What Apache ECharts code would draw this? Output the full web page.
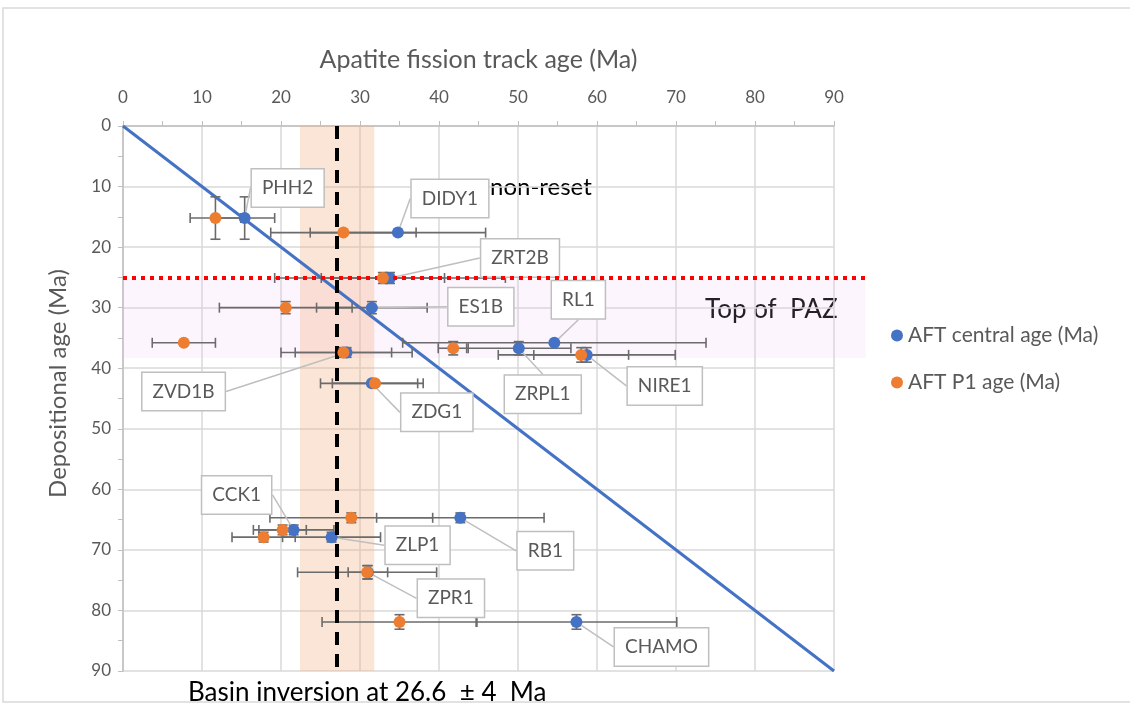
<!DOCTYPE html>
<html>
<head>
    <meta charset="utf-8">
    <title>AFT age vs depositional age</title>
    <script src="https://cdn.jsdelivr.net/npm/echarts@6/dist/echarts.min.js"></script>
</head>
<body style="margin:0">
    <div id="main" style="width:1130px;height:704px;"></div>
    <script type="text/javascript">
        // samples, top to bottom
        var samples = ['PHH2', 'DIDY1', 'ZRT2B', 'ES1B', 'RL1', 'ZRPL1', 'NIRE1',
                       'ZVD1B', 'ZDG1', 'RB1', 'CCK1', 'ZLP1', 'ZPR1', 'CHAMO'];
        var depositionalAge = [15.2, 17.6, 25.1, 30.0, 35.8, 36.7, 37.8, 37.4, 42.5, 64.7, 66.7, 67.9, 73.7, 81.9];
        var depositionalErr = [3.5, 0, 0.9, 1.0, 0, 1.1, 1.2, 0.8, 0, 0.8, 0.8, 0.8, 1.1, 1.2];

        var centralAge = [15.4, 34.8, 33.8, 31.5, 54.6, 50.1, 58.7, 28.3, 31.5, 42.7, 21.6, 26.4, 31.0, 57.4];
        var centralErr = [3.8, 11.1, 14.6, 7.0, 19.2, 6.6, 11.2, 8.3, 6.5, 10.6, 5.1, 6.2, 2.5, 12.7];

        var p1Age = [11.7, 27.9, 32.9, 20.6, 7.7, 41.8, 58.0, 27.9, 31.9, 28.9, 20.2, 17.8, 30.9, 35.0];
        var p1Err = [3.2, 9.2, 7.8, 8.4, 4.0, 1.9, 6.0, 6.1, 5.4, 10.3, 3.0, 4.0, 8.8, 9.8];

        var oneToOne = [0, 90];          // 1:1 line ends
        var basinInversion = 27.1;       // dashed line
        var inversionBand = [22.4, 31.8];
        var pazTop = 25;                 // red dotted line
        var pazBand = [25.3, 38.3];

        var blue = '#4472C4', orange = '#ED7D31', gray = '#595959';
        var font = 'Lato';

        // where each callout box sits relative to its point (px)
        var calloutOffset = [[43, -30], [52, -34], [130, -20], [109, -1], [24, -43], [24, 46], [78, 31],
                             [-163, 39], [65, 29], [85, 33], [-57, -35], [86, 8], [83, 26], [85, 25]];

        var myChart = echarts.init(document.getElementById('main'));

        function errorBar(params, api) {
            var x = api.value(0), y = api.value(1), ex = api.value(2), ey = api.value(3);
            var style = { stroke: '#6b6b6b', lineWidth: 1.6 };
            var cap = 5, kids = [];
            if (ex > 0) {
                var l = api.coord([x - ex, y]), r = api.coord([x + ex, y]);
                kids.push({ type: 'line', shape: { x1: l[0], y1: l[1], x2: r[0], y2: r[1] }, style: style });
                kids.push({ type: 'line', shape: { x1: l[0], y1: l[1] - cap, x2: l[0], y2: l[1] + cap }, style: style });
                kids.push({ type: 'line', shape: { x1: r[0], y1: r[1] - cap, x2: r[0], y2: r[1] + cap }, style: style });
            }
            if (ey > 0) {
                var t = api.coord([x, y - ey]), b = api.coord([x, y + ey]);
                kids.push({ type: 'line', shape: { x1: t[0], y1: t[1], x2: b[0], y2: b[1] }, style: style });
                kids.push({ type: 'line', shape: { x1: t[0] - cap, y1: t[1], x2: t[0] + cap, y2: t[1] }, style: style });
                kids.push({ type: 'line', shape: { x1: b[0] - cap, y1: b[1], x2: b[0] + cap, y2: b[1] }, style: style });
            }
            return { type: 'group', children: kids };
        }

        var centralPts = [], p1Pts = [], centralBars = [], p1Bars = [];
        for (var i = 0; i < samples.length; i++) {
            centralPts.push([centralAge[i], depositionalAge[i]]);
            p1Pts.push([p1Age[i], depositionalAge[i]]);
            centralBars.push([centralAge[i], depositionalAge[i], centralErr[i], depositionalErr[i]]);
            p1Bars.push([p1Age[i], depositionalAge[i], p1Err[i], depositionalErr[i]]);
        }

        var plotW = 711, plotH = 545;

        option = {
            animation: false,
            textStyle: { fontFamily: font },
            grid: [
                { left: 123, top: 126, width: plotW, height: plotH },
                // wider frame for the PAZ band, which runs past the last gridline
                { left: 123, top: 126, width: plotW * 94 / 90, height: plotH }
            ],
            xAxis: [{
                type: 'value', position: 'top', min: 0, max: 90, interval: 10,
                name: 'Apatite fission track age (Ma)', nameLocation: 'middle', nameGap: 54,
                nameTextStyle: { fontSize: 25, color: gray, fontFamily: font },
                axisLine: { show: true, lineStyle: { color: '#bfbfbf', width: 1.5 } },
                axisTick: { show: true, length: 5, lineStyle: { color: '#bfbfbf' } },
                minorTick: { show: true, splitNumber: 2, length: 5, lineStyle: { color: '#bfbfbf' } },
                axisLabel: { fontSize: 17, color: gray, margin: 20, fontFamily: font },
                splitLine: { show: true, lineStyle: { color: '#d9d9d9', width: 1.5 } }
            }, {
                type: 'value', gridIndex: 1, min: 0, max: 94, show: false
            }],
            yAxis: [{
                type: 'value', inverse: true, min: 0, max: 90, interval: 10,
                name: 'Depositional age (Ma)', nameLocation: 'middle', nameGap: 53,
                nameTextStyle: { fontSize: 24, color: gray, fontFamily: font, padding: [0, 0, 0, 30] },
                axisLine: { show: true, lineStyle: { color: '#bfbfbf', width: 1.5 } },
                axisTick: { show: true, length: 5, lineStyle: { color: '#bfbfbf' } },
                minorTick: { show: true, splitNumber: 2, length: 5, lineStyle: { color: '#bfbfbf' } },
                axisLabel: { fontSize: 17, color: gray, margin: 12, fontFamily: font },
                splitLine: { show: true, lineStyle: { color: '#d9d9d9', width: 1.5 } }
            }, {
                type: 'value', gridIndex: 1, inverse: true, min: 0, max: 90, show: false
            }],
            legend: {
                orient: 'vertical', left: 886, top: 320, itemGap: 26,
                icon: 'circle', itemWidth: 12, itemHeight: 12,
                textStyle: { fontSize: 21, color: gray, fontFamily: font },
                data: ['AFT central age (Ma)', 'AFT P1 age (Ma)']
            },
            series: [{
                // PAZ band and its top
                type: 'scatter', xAxisIndex: 1, yAxisIndex: 1, data: [], z: 1, silent: true,
                markArea: {
                    silent: true,
                    itemStyle: { color: 'rgba(240,190,240,0.16)' },
                    data: [[{ xAxis: 0, yAxis: pazBand[0] }, { xAxis: 94, yAxis: pazBand[1] }]]
                }
            }, {
                type: 'line', name: '1:1', data: [[oneToOne[0], oneToOne[0]], [oneToOne[1], oneToOne[1]]],
                showSymbol: false, z: 2, silent: true,
                lineStyle: { color: blue, width: 3 }
            }, {
                type: 'custom', name: 'central err', renderItem: errorBar, data: centralBars,
                encode: { x: 0, y: 1 }, z: 3, silent: true
            }, {
                type: 'custom', name: 'p1 err', renderItem: errorBar, data: p1Bars,
                encode: { x: 0, y: 1 }, z: 3, silent: true
            }, {
                type: 'scatter', name: 'AFT central age (Ma)', data: centralPts, z: 4,
                symbolSize: 12, itemStyle: { color: blue, opacity: 1 },
                label: {
                    show: true, position: 'inside',
                    formatter: function (p) { return samples[p.dataIndex]; },
                    color: gray, fontSize: 19, fontFamily: font,
                    backgroundColor: '#fff', borderColor: '#bfbfbf', borderWidth: 1.5,
                    padding: [9, 10]
                },
                labelLine: { show: true, lineStyle: { color: '#bfbfbf', width: 1.5 } },
                labelLayout: function (p) {
                    var o = calloutOffset[p.dataIndex];
                    return { dx: o[0], dy: o[1] };
                },
                emphasis: { disabled: true }
            }, {
                type: 'scatter', name: 'AFT P1 age (Ma)', data: p1Pts, z: 5,
                symbolSize: 12, itemStyle: { color: orange, opacity: 1 },
                emphasis: { disabled: true }
            }, {
                // basin inversion band and line, drawn over the points
                type: 'scatter', data: [], z: 6, silent: true,
                markArea: {
                    silent: true,
                    itemStyle: { color: 'rgba(244,177,131,0.33)' },
                    data: [[{ xAxis: inversionBand[0], yAxis: 0 }, { xAxis: inversionBand[1], yAxis: 90 }]]
                },
                markLine: {
                    silent: true, symbol: 'none', label: { show: false },
                    lineStyle: { color: '#000', width: 4, type: [13, 9] },
                    data: [{ xAxis: basinInversion }]
                }
            }, {
                type: 'scatter', xAxisIndex: 1, yAxisIndex: 1, data: [], z: 7, silent: true,
                markLine: {
                    silent: true, symbol: 'none', label: { show: false },
                    lineStyle: { color: '#ff0000', width: 4, type: [4, 5] },
                    data: [{ yAxis: pazTop }]
                }
            }],
            graphic: [{
                type: 'rect', silent: true, z: -1,
                shape: { x: 3, y: 8, width: 1140, height: 694 },
                style: { fill: 'none', stroke: '#d9d9d9', lineWidth: 1.5 }
            }, {
                type: 'text', left: 490, top: 175, silent: true,
                style: { text: 'non-reset', fontSize: 24, fill: '#000', fontFamily: font }
            }, {
                type: 'text', left: 705, top: 297, silent: true,
                style: { text: 'Top of  PAZ', fontSize: 26, fill: '#000', fontFamily: font }
            }, {
                type: 'text', left: 188, top: 680, silent: true,
                style: { text: 'Basin inversion at 26.6  \u00b1 4  Ma', fontSize: 26, fill: '#000', fontFamily: font }
            }]
        };

        myChart.setOption(option);
    </script>
</body>
</html>
